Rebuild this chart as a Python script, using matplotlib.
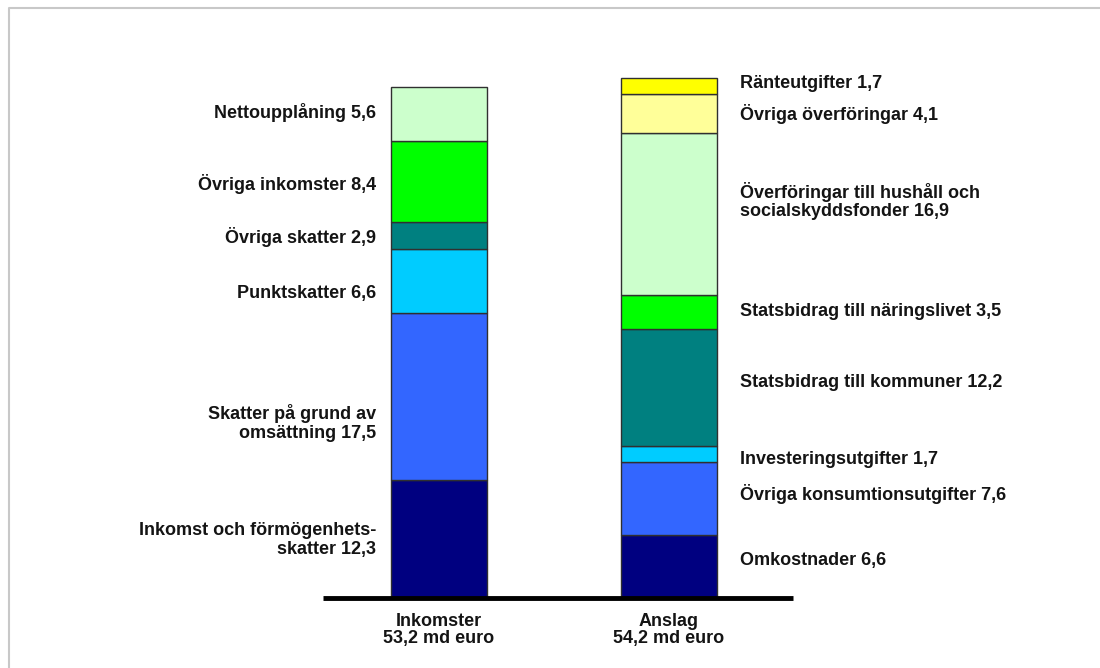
import matplotlib.pyplot as plt
from matplotlib.lines import Line2D

plt.rcParams['font.family'] = ['Liberation Sans', 'DejaVu Sans']

# Inkomster (nedifrån och upp)
ink_namn = ['Inkomst och förmögenhets-\nskatter', 'Skatter på grund av\nomsättning',
            'Punktskatter', 'Övriga skatter', 'Övriga inkomster', 'Nettoupplåning']
ink_varden = [12.3, 17.5, 6.6, 2.9, 8.4, 5.6]
ink_farger = ['#000080', '#3366ff', '#00ccff', '#008080', '#00ff00', '#ccffcc']

# Anslag (nedifrån och upp)
ansl_namn = ['Omkostnader', 'Övriga konsumtionsutgifter', 'Investeringsutgifter',
             'Statsbidrag till kommuner', 'Statsbidrag till näringslivet',
             'Överföringar till hushåll och\nsocialskyddsfonder',
             'Övriga överföringar', 'Ränteutgifter']
ansl_varden = [6.6, 7.6, 1.7, 12.2, 3.5, 16.9, 4.1, 1.7]
ansl_farger = ['#000080', '#3366ff', '#00ccff', '#008080', '#00ff00', '#ccffcc',
               '#ffff99', '#ffff00']

staplar = ['Inkomster\n53,2 md euro', 'Anslag\n54,2 md euro']

# små förskjutningar av etiketterna så att de inte krockar
ink_just = [-0.1, -2.8, -1.3, -0.2, -0.3, 0.2]
ansl_just = [0.6, 0.5, -0.6, 0.5, 0.1, 1.4, 0.0, 0.3]

fig = plt.figure(figsize=(11, 6.68), dpi=100)
W, H = 1100, 668

# ram runt bilden
fig.add_artist(Line2D([8.5 / W, 8.5 / W, 1.0], [0.0, 1 - 8 / H, 1 - 8 / H],
                      transform=fig.transFigure, color='#c8c8c8', lw=1.5))

ax = fig.add_axes([323 / W, (H - 598) / H, 470 / W, 540 / H])
ax.set_xlim(-0.504, 1.539)
ax.set_ylim(0, 540 / 9.58)
ax.axis('off')

bredd = 0.417
fs = 13
textfarg = '#141414'


def stapel(x, varden, farger, namn, just, vanster):
    botten = 0
    for v, f, n, j in zip(varden, farger, namn, just):
        ax.bar(x, v, bottom=botten, width=bredd, color=f, edgecolor='#303030', lw=1)
        y = botten + v / 2 + j
        txt = f'{n} {v:.1f}'.replace('.', ',')
        if vanster:
            ax.text(x - bredd / 2 - 0.065, y, txt, ha='right', va='center',
                    fontsize=fs, fontweight='bold', color=textfarg, linespacing=1.12,
                    multialignment='right')
        else:
            ax.text(x + bredd / 2 + 0.1, y, txt, ha='left', va='center',
                    fontsize=fs, fontweight='bold', color=textfarg, linespacing=1.08)
        botten += v


stapel(0, ink_varden, ink_farger, ink_namn, ink_just, True)
stapel(1, ansl_varden, ansl_farger, ansl_namn, ansl_just, False)

# baslinje
ax.plot([-0.504, 1.539], [0, 0], color='black', lw=3.5, solid_capstyle='butt', clip_on=False)

for i, s in enumerate(staplar):
    ax.text(i, -3.35, s, ha='center', va='center', fontsize=fs, fontweight='bold',
            color=textfarg, linespacing=1.05)

fig.savefig('out.png', dpi=100)
